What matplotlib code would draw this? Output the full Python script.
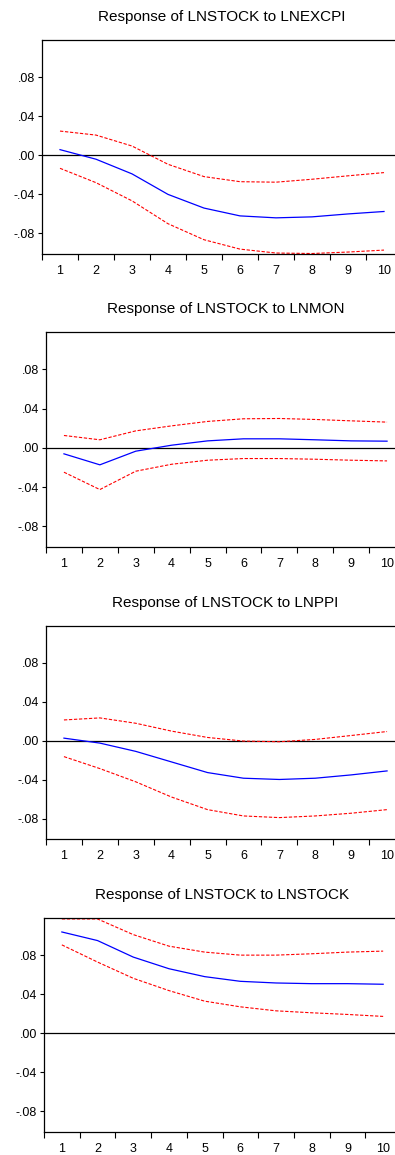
import matplotlib
matplotlib.use("Agg")
import matplotlib.pyplot as plt

plt.rcParams['font.family'] = ['Liberation Sans', 'DejaVu Sans']

periods = [1, 2, 3, 4, 5, 6, 7, 8, 9, 10]

titles = ["Response of LNSTOCK to LNEXCPI",
          "Response of LNSTOCK to LNMON",
          "Response of LNSTOCK to LNPPI",
          "Response of LNSTOCK to LNSTOCK"]

# impulse responses (blue) and +/- 2 s.e. bands (red)
resp_excpi = [0.0058, -0.004, -0.019, -0.040, -0.054, -0.062, -0.064, -0.063, -0.060, -0.0575]
up_excpi = [0.0248, 0.0207, 0.0095, -0.0092, -0.0218, -0.027, -0.0275, -0.0245, -0.021, -0.0177]
lo_excpi = [-0.0133, -0.028, -0.0466, -0.070, -0.0864, -0.096, -0.100, -0.1005, -0.099, -0.097]

resp_mon = [-0.0061, -0.0173, -0.0034, 0.0027, 0.0071, 0.0092, 0.0092, 0.0082, 0.0071, 0.0068]
up_mon = [0.0126, 0.0082, 0.0173, 0.0224, 0.0269, 0.0296, 0.0299, 0.0289, 0.0275, 0.0262]
lo_mon = [-0.0248, -0.0425, -0.0238, -0.0167, -0.0126, -0.0109, -0.0109, -0.0116, -0.0126, -0.0133]

resp_ppi = [0.0027, -0.0024, -0.0109, -0.0218, -0.0327, -0.0385, -0.0398, -0.0385, -0.0351, -0.031]
up_ppi = [0.0214, 0.0235, 0.018, 0.0099, 0.0034, -0.0003, -0.001, 0.0014, 0.0054, 0.0095]
lo_ppi = [-0.0163, -0.0286, -0.0422, -0.0579, -0.0708, -0.0773, -0.079, -0.0773, -0.0745, -0.0708]

resp_stock = [0.1037, 0.0949, 0.078, 0.0661, 0.058, 0.0532, 0.0515, 0.0508, 0.0508, 0.0502]
up_stock = [0.117, 0.117, 0.101, 0.0892, 0.0831, 0.080, 0.080, 0.0814, 0.0831, 0.0841]
lo_stock = [0.0905, 0.0729, 0.0563, 0.0437, 0.0329, 0.0271, 0.023, 0.021, 0.0193, 0.0173]

yticks = [-0.08, -0.04, 0.0, 0.04, 0.08]
ytick_labels = ["-.08", "-.04", ".00", ".04", ".08"]

W, H = 395, 1155
fig = plt.figure(figsize=(W / 100, H / 100), dpi=100)

# pixel boxes: left, top, right, bottom
boxes = [(42, 40, 402, 254),
         (46, 332, 405, 547),
         (46, 626, 405, 839),
         (44, 918, 401, 1132)]

series = [(resp_excpi, up_excpi, lo_excpi),
          (resp_mon, up_mon, lo_mon),
          (resp_ppi, up_ppi, lo_ppi),
          (resp_stock, up_stock, lo_stock)]

for (l, t, r, b), title, (resp, up, lo) in zip(boxes, titles, series):
    ax = fig.add_axes([l / W, 1 - b / H, (r - l) / W, (b - t) / H])
    ax.axhline(0, color='black', lw=0.9)
    ax.plot(periods, resp, color='#0000ff', lw=0.9)
    ax.plot(periods, up, color='#ff0000', lw=0.8, ls=(0, (3, 1.5)))
    ax.plot(periods, lo, color='#ff0000', lw=0.8, ls=(0, (3, 1.5)))
    ax.set_xlim(0.5, 10.5)
    ax.set_ylim(-0.101, 0.118)
    ax.set_yticks(yticks)
    ax.set_yticklabels(ytick_labels)
    # tick marks between periods, labels at periods
    ax.set_xticks([p + 0.5 for p in periods[:-1]] + [0.5])
    ax.set_xticklabels([])
    ax.set_xticks(periods, minor=True)
    ax.set_xticklabels([str(p) for p in periods], minor=True)
    ax.tick_params(axis='x', which='major', direction='out', length=4.5, width=0.8)
    ax.tick_params(axis='x', which='minor', length=0, pad=8, labelsize=9)
    ax.tick_params(axis='y', direction='out', length=3, width=0.8, pad=2, labelsize=9)
    ax.spines['right'].set_visible(False)
    for s in ['left', 'top', 'bottom']:
        ax.spines[s].set_linewidth(0.9)
    ax.set_title(title, fontsize=11, pad=14)

fig.savefig("out.png", dpi=100)
